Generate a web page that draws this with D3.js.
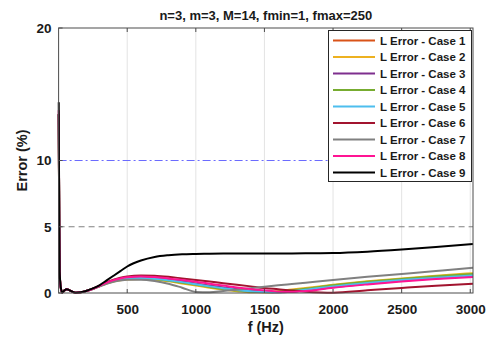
<!DOCTYPE html>
<html>
<head>
<meta charset="utf-8">
<script src="https://cdn.jsdelivr.net/npm/d3@7"></script>
<style>
  body { margin: 0; background: #fff; }
  text { font-family: "Liberation Sans", Arial, sans-serif; font-weight: bold; fill: #1a1a1a; }
</style>
</head>
<body>
<div id="chart"></div>
<script>
var svgWidth = 498;
var svgHeight = 339;

var margin = { top: 28, right: 25, bottom: 46, left: 58.6 };
var chartWidth = svgWidth - margin.left - margin.right;
var chartHeight = svgHeight - margin.top - margin.bottom;

var titleText = "n=3, m=3, M=14, fmin=1, fmax=250";
var xTicks = [500, 1000, 1500, 2000, 2500, 3000];
var yTicks = [0, 5, 10, 20];

var freqs = [1, 3, 5, 8, 15, 27, 45, 60, 80, 100, 125, 160, 200, 250, 300, 350, 400, 450, 500,
  600, 700, 800, 900, 1000, 1100, 1200, 1300, 1400, 1500, 1600, 1700, 1800, 2000, 2250, 2500, 2750, 3020];

var caseNames = ["L Error - Case 1", "L Error - Case 2", "L Error - Case 3", "L Error - Case 4",
  "L Error - Case 5", "L Error - Case 6", "L Error - Case 7", "L Error - Case 8", "L Error - Case 9"];
var caseColors = ["#D95319", "#EDB120", "#7E2F8E", "#77AC30", "#4DBEEE", "#A2142F", "#808080", "#FF1493", "#000000"];

var case1 = [13.5, 8.7, 4.8, 1.5, 0.45, 0.03, 0.22, 0.28, 0.2, 0.1, 0.02, 0.05, 0.15, 0.32, 0.54, 0.76, 0.93, 1.05, 1.12,
  1.18, 1.13, 1.02, 0.87, 0.7, 0.54, 0.4, 0.27, 0.16, 0.08, 0.06, 0.12, 0.22, 0.48, 0.76, 1.0, 1.2, 1.38];
var case2 = [13.5, 8.7, 4.8, 1.5, 0.45, 0.03, 0.22, 0.28, 0.2, 0.1, 0.02, 0.05, 0.15, 0.32, 0.52, 0.72, 0.86, 0.96, 1.02,
  1.06, 1.0, 0.88, 0.72, 0.56, 0.4, 0.26, 0.14, 0.05, 0.05, 0.15, 0.27, 0.38, 0.62, 0.88, 1.1, 1.3, 1.5];
var case3 = [13.5, 8.7, 4.8, 1.5, 0.45, 0.03, 0.22, 0.28, 0.2, 0.1, 0.02, 0.05, 0.15, 0.32, 0.54, 0.76, 0.93, 1.05, 1.11,
  1.15, 1.1, 1.0, 0.86, 0.7, 0.55, 0.41, 0.28, 0.17, 0.09, 0.05, 0.1, 0.2, 0.44, 0.7, 0.92, 1.1, 1.28];
var case4 = [13.5, 8.7, 4.8, 1.5, 0.45, 0.03, 0.22, 0.28, 0.2, 0.1, 0.02, 0.05, 0.15, 0.32, 0.53, 0.74, 0.89, 1.0, 1.06,
  1.1, 1.04, 0.93, 0.78, 0.62, 0.46, 0.31, 0.18, 0.09, 0.06, 0.1, 0.2, 0.32, 0.58, 0.84, 1.06, 1.26, 1.44];
var case5 = [13.5, 8.7, 4.8, 1.5, 0.45, 0.03, 0.22, 0.28, 0.2, 0.1, 0.02, 0.05, 0.15, 0.32, 0.53, 0.75, 0.91, 1.03, 1.09,
  1.13, 1.07, 0.96, 0.82, 0.66, 0.5, 0.36, 0.23, 0.13, 0.07, 0.06, 0.14, 0.25, 0.5, 0.76, 0.98, 1.16, 1.33];
var case6 = [13.5, 8.7, 4.8, 1.5, 0.45, 0.03, 0.22, 0.28, 0.2, 0.1, 0.02, 0.05, 0.15, 0.32, 0.55, 0.8, 1.0, 1.15, 1.25,
  1.32, 1.3, 1.22, 1.1, 0.98, 0.86, 0.74, 0.62, 0.5, 0.38, 0.28, 0.18, 0.1, 0.02, 0.2, 0.38, 0.55, 0.7];
var case7 = [13.5, 8.7, 4.8, 1.5, 0.45, 0.03, 0.22, 0.28, 0.2, 0.1, 0.02, 0.05, 0.15, 0.3, 0.5, 0.7, 0.85, 0.95, 1.0,
  1.0, 0.9, 0.7, 0.4, 0.08, 0.05, 0.15, 0.25, 0.36, 0.47, 0.58, 0.68, 0.78, 0.98, 1.22, 1.44, 1.66, 1.9];
var case8 = [13.8, 8.9, 4.9, 1.5, 0.45, 0.03, 0.22, 0.28, 0.2, 0.1, 0.02, 0.05, 0.15, 0.32, 0.55, 0.78, 0.97, 1.1, 1.18,
  1.25, 1.2, 1.1, 0.98, 0.85, 0.7, 0.56, 0.42, 0.3, 0.2, 0.1, 0.07, 0.15, 0.4, 0.65, 0.87, 1.05, 1.2];
var case9 = [14.4, 9.2, 5.2, 1.6, 0.5, 0.04, 0.22, 0.28, 0.2, 0.1, 0.02, 0.05, 0.15, 0.35, 0.6, 0.95, 1.3, 1.65, 2.0,
  2.45, 2.72, 2.85, 2.92, 2.95, 2.97, 2.98, 2.98, 2.98, 2.98, 2.98, 2.99, 3.0, 3.02, 3.12, 3.28, 3.47, 3.7];

var caseValues = [case1, case2, case3, case4, case5, case6, case7, case8, case9];

var refLevels = [10, 5];
var refColors = ["#6b6bff", "#808080"];
var refDashes = ["8,3,2,3", "6,4"];

var svg = d3.select("#chart")
  .append("svg")
  .attr("width", svgWidth)
  .attr("height", svgHeight);

var chartGroup = svg.append("g")
  .attr("transform", `translate(${margin.left}, ${margin.top})`);

var xScale = d3.scaleLinear()
  .domain([0, 3020])
  .range([0, chartWidth]);

var yScale = d3.scaleLinear()
  .domain([0, 20])
  .range([chartHeight, 0]);

// vertical grid
chartGroup.selectAll(".grid")
  .data(xTicks)
  .enter()
  .append("line")
  .attr("x1", d => xScale(d))
  .attr("x2", d => xScale(d))
  .attr("y1", 0)
  .attr("y2", chartHeight)
  .attr("stroke", "#e3e3e3")
  .attr("stroke-width", 1);

// reference lines
refLevels.forEach(function(level, i) {
  chartGroup.append("line")
    .attr("x1", 0)
    .attr("x2", chartWidth)
    .attr("y1", yScale(level))
    .attr("y2", yScale(level))
    .attr("stroke", refColors[i])
    .attr("stroke-width", 1)
    .attr("stroke-dasharray", refDashes[i]);
});

var lineGen = d3.line()
  .x(d => xScale(d[0]))
  .y(d => yScale(d[1]))
  .curve(d3.curveMonotoneX);

chartGroup.append("g")
  .selectAll("path")
  .data(caseValues)
  .enter()
  .append("path")
  .attr("d", d => lineGen(freqs.map((f, i) => [f, d[i]])))
  .attr("fill", "none")
  .attr("stroke", (d, i) => caseColors[i])
  .attr("stroke-width", 2);

// axes
var axisColor = "#4d4d4d";
var bottomAxis = d3.axisBottom(xScale).tickValues(xTicks).tickFormat(d3.format("d")).tickSize(0).tickPadding(11);
var leftAxis = d3.axisLeft(yScale).tickValues(yTicks).tickFormat(d3.format("d")).tickSize(0).tickPadding(7);

var xAxisG = chartGroup.append("g")
  .attr("transform", `translate(0, ${chartHeight})`)
  .call(bottomAxis);
var yAxisG = chartGroup.append("g").call(leftAxis);

[xAxisG, yAxisG].forEach(function(g) {
  g.select(".domain").remove();
  g.selectAll("text")
    .attr("fill", "#1a1a1a")
    .style("font-size", "13.5px")
    .style("font-weight", "bold")
    .style("font-family", "'Liberation Sans', Arial, sans-serif");
});

// inward tick marks
chartGroup.selectAll(".xtickb")
  .data(xTicks)
  .enter()
  .append("line")
  .attr("x1", d => xScale(d)).attr("x2", d => xScale(d))
  .attr("y1", chartHeight).attr("y2", chartHeight - 4)
  .attr("stroke", axisColor);
chartGroup.selectAll(".xtickt")
  .data(xTicks)
  .enter()
  .append("line")
  .attr("x1", d => xScale(d)).attr("x2", d => xScale(d))
  .attr("y1", 0).attr("y2", 4)
  .attr("stroke", axisColor);
chartGroup.selectAll(".ytickl")
  .data(yTicks)
  .enter()
  .append("line")
  .attr("x1", 0).attr("x2", 4)
  .attr("y1", d => yScale(d)).attr("y2", d => yScale(d))
  .attr("stroke", axisColor);

// box
chartGroup.append("rect")
  .attr("x", 0)
  .attr("y", 0)
  .attr("width", chartWidth)
  .attr("height", chartHeight)
  .attr("fill", "none")
  .attr("stroke", axisColor)
  .attr("stroke-width", 1);

// title and labels
svg.append("text")
  .attr("x", margin.left + chartWidth / 2)
  .attr("y", 20)
  .attr("text-anchor", "middle")
  .style("font-size", "13px")
  .text(titleText);

svg.append("text")
  .attr("x", margin.left + chartWidth / 2)
  .attr("y", 332)
  .attr("text-anchor", "middle")
  .style("font-size", "14.5px")
  .text("f (Hz)");

svg.append("text")
  .attr("transform", `translate(27, ${margin.top + chartHeight / 2}) rotate(-90)`)
  .attr("text-anchor", "middle")
  .style("font-size", "14.5px")
  .text("Error (%)");

// legend
var legendGroup = svg.append("g");
legendGroup.append("rect")
  .attr("x", 328.5)
  .attr("y", 30.5)
  .attr("width", 143)
  .attr("height", 151)
  .attr("fill", "#fff")
  .attr("stroke", "#262626")
  .attr("stroke-width", 1);

var legendItems = legendGroup.selectAll(".item")
  .data(caseNames)
  .enter()
  .append("g")
  .attr("transform", (d, i) => `translate(0, ${40.5 + i * 16.5})`);

legendItems.append("line")
  .attr("x1", 333)
  .attr("x2", 375)
  .attr("y1", 0)
  .attr("y2", 0)
  .attr("stroke", (d, i) => caseColors[i])
  .attr("stroke-width", 2);

legendItems.append("text")
  .attr("x", 380)
  .attr("y", 4)
  .style("font-size", "11.5px")
  .text(d => d);
</script>
</body>
</html>
